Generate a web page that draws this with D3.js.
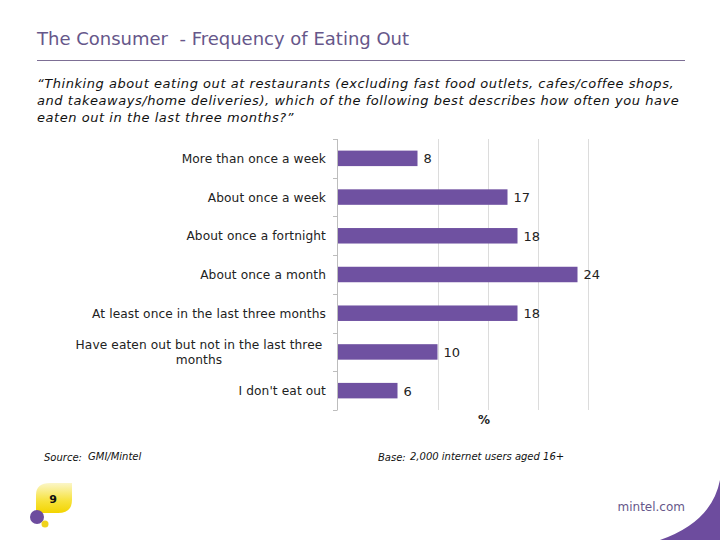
<!DOCTYPE html>
<html>
<head>
<meta charset="utf-8">
<script src="https://cdn.jsdelivr.net/npm/d3@7"></script>
<style>
  body { margin: 0; background: #fff; }
  svg { display: block; font-family: "DejaVu Sans", Verdana, sans-serif; }
  text { white-space: pre; }
</style>
</head>
<body>
<div id="chart"></div>
<script>
// chart data
const categories = [
  "More than once a week",
  "About once a week",
  "About once a fortnight",
  "About once a month",
  "At least once in the last three months",
  "Have eaten out but not in the last three|months",
  "I don't eat out"
];
const values = [8, 17, 18, 24, 18, 10, 6];
const gridTicks = [10, 15, 20, 25];

const titleText = "The Consumer  - Frequency of Eating Out";
const questionLines = [
  "\u201cThinking about eating out at restaurants (excluding fast food outlets, cafes/coffee shops,",
  "and takeaways/home deliveries), which of the following best describes how often you have",
  "eaten out in the last three months?\u201d"
];

const width = 720;
const height = 540;
const purple = "#6f51a1";

const svg = d3.select("#chart")
  .append("svg")
  .attr("width", width)
  .attr("height", height);

// header
svg.append("text")
  .attr("x", 37).attr("y", 45)
  .attr("fill", "#66578a")
  .style("font-size", "18px")
  .text(titleText);

svg.append("line")
  .attr("x1", 37).attr("x2", 685)
  .attr("y1", 60.5).attr("y2", 60.5)
  .attr("stroke", "#7d6f95")
  .attr("stroke-width", 1);

svg.append("g")
  .selectAll("text")
  .data(questionLines)
  .enter().append("text")
  .attr("x", 37)
  .attr("y", (d, i) => 88 + i * 17)
  .attr("fill", "#111")
  .style("font-size", "13px")
  .style("letter-spacing", "0.55px")
  .style("font-style", "italic")
  .text(d => d);

// scales
const x = d3.scaleLinear()
  .domain([0, 25])
  .range([337.5, 587.5]);

const y = d3.scaleBand()
  .domain(categories)
  .range([139, 410])
  .paddingInner(0.6)
  .paddingOuter(0.3);

const plot = svg.append("g");

// gridlines
plot.selectAll(".grid")
  .data(gridTicks)
  .enter().append("line")
  .attr("class", "grid")
  .attr("x1", d => Math.round(x(d)) + 0.5)
  .attr("x2", d => Math.round(x(d)) + 0.5)
  .attr("y1", 139).attr("y2", 410)
  .attr("stroke", "#dcdcdc");

// bars
plot.selectAll(".bar")
  .data(values)
  .enter().append("rect")
  .attr("class", "bar")
  .attr("x", x(0))
  .attr("y", (d, i) => y(categories[i]))
  .attr("width", d => x(d) - x(0))
  .attr("height", y.bandwidth())
  .attr("fill", purple);

// value labels
plot.selectAll(".val")
  .data(values)
  .enter().append("text")
  .attr("class", "val")
  .attr("x", d => x(d) + 6)
  .attr("y", (d, i) => y(categories[i]) + y.bandwidth() / 2)
  .attr("dy", "0.38em")
  .attr("fill", "#222")
  .style("font-size", "13px")
  .text(d => d);

// vertical axis with ticks between categories
const step = y.step();
const bounds = categories.map(c => y(c) - (step - y.bandwidth()) / 2);
bounds.push(410);

plot.append("line")
  .attr("x1", 337.5).attr("x2", 337.5)
  .attr("y1", 139).attr("y2", 410)
  .attr("stroke", "#bdbdbd");

plot.selectAll(".tick")
  .data(bounds)
  .enter().append("line")
  .attr("class", "tick")
  .attr("x1", 333).attr("x2", 337.5)
  .attr("y1", d => Math.round(d) + 0.5)
  .attr("y2", d => Math.round(d) + 0.5)
  .attr("stroke", "#bdbdbd");

// category labels
const labels = plot.selectAll(".cat")
  .data(categories)
  .enter().append("text")
  .attr("class", "cat")
  .attr("fill", "#222")
  .style("font-size", "12.2px")
  .style("letter-spacing", "0.1px");

labels.each(function(d) {
  const parts = d.split("|");
  const cy = y(d) + y.bandwidth() / 2;
  const t = d3.select(this);
  if (parts.length === 1) {
    t.attr("x", 326).attr("y", cy).attr("dy", "0.38em")
      .attr("text-anchor", "end").text(d);
  } else {
    t.attr("text-anchor", "middle");
    parts.forEach((p, i) => {
      t.append("tspan")
        .attr("x", 199)
        .attr("y", cy - 8 + i * 15)
        .attr("dy", "0.38em")
        .text(p);
    });
  }
});

// axis title
svg.append("text")
  .attr("x", 484).attr("y", 424)
  .attr("text-anchor", "middle")
  .attr("fill", "#222")
  .style("font-size", "12px")
  .style("font-weight", "bold")
  .text("%");

// footnotes
svg.append("text")
  .attr("x", 44).attr("y", 461)
  .attr("fill", "#111")
  .style("font-size", "10px")
  .style("font-style", "italic")
  .text("Source:");
svg.append("text")
  .attr("x", 88).attr("y", 460)
  .attr("fill", "#111")
  .style("font-size", "10px")
  .style("font-style", "italic")
  .text("GMI/Mintel");

svg.append("text")
  .attr("x", 378).attr("y", 461)
  .attr("fill", "#111")
  .style("font-size", "10px")
  .style("font-style", "italic")
  .text("Base:");
svg.append("text")
  .attr("x", 410).attr("y", 460)
  .attr("fill", "#111")
  .style("font-size", "10px")
  .style("font-style", "italic")
  .text("2,000 internet users aged 16+");

// page badge
const defs = svg.append("defs");
const grad = defs.append("linearGradient")
  .attr("id", "badge").attr("x1", 0).attr("y1", 0).attr("x2", 0).attr("y2", 1);
grad.append("stop").attr("offset", "0%").attr("stop-color", "#fbf6c8");
grad.append("stop").attr("offset", "60%").attr("stop-color", "#f7e23a");
grad.append("stop").attr("offset", "100%").attr("stop-color", "#f3d400");

svg.append("path")
  .attr("d", "M36,495 Q36,483 50,483 L72,483 L72,500 Q72,513 58,513 L36,513 Z")
  .attr("fill", "url(#badge)");
svg.append("text")
  .attr("x", 53).attr("y", 503)
  .attr("text-anchor", "middle")
  .attr("fill", "#111")
  .style("font-size", "11px")
  .style("font-weight", "bold")
  .text("9");
svg.append("circle").attr("cx", 37).attr("cy", 517).attr("r", 7).attr("fill", "#6d4c9e");
svg.append("circle").attr("cx", 45).attr("cy", 524).attr("r", 3.5).attr("fill", "#efd21c");

svg.append("text")
  .attr("x", 685).attr("y", 511)
  .attr("text-anchor", "end")
  .attr("fill", "#66578a")
  .style("font-size", "12px")
  .text("mintel.com");

svg.append("path")
  .attr("d", "M660,540 Q712,522 720,480 L720,540 Z")
  .attr("fill", "#6d4c9e");
</script>
</body>
</html>
